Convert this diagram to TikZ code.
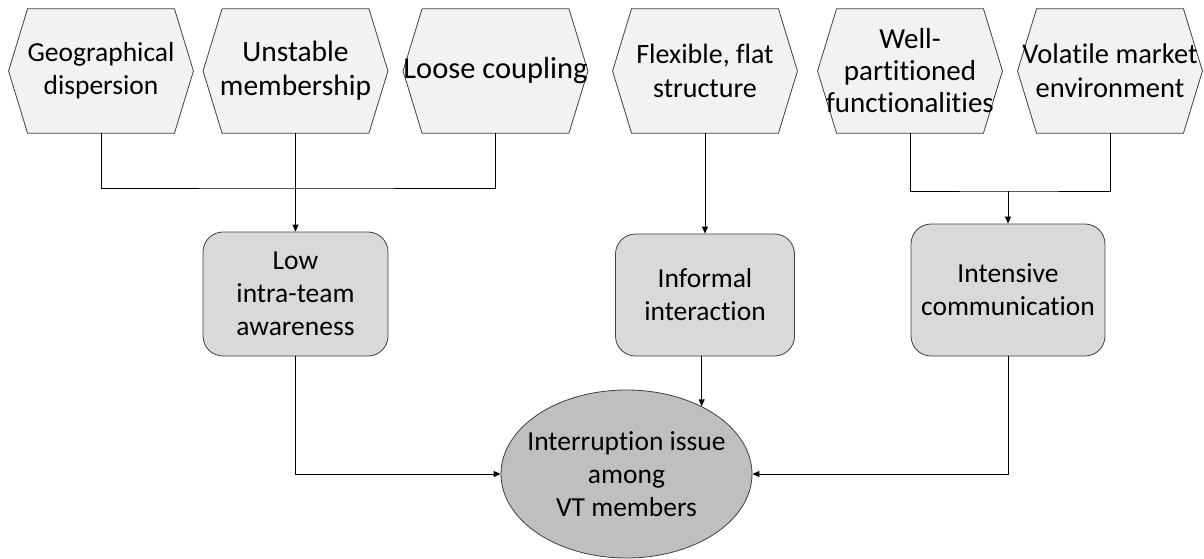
\documentclass[tikz,border=0pt]{standalone}
\usepackage{fontspec}
\setmainfont{Carlito}[Ligatures=NoCommon]
\usetikzlibrary{shapes.geometric,arrows.meta,backgrounds}
\definecolor{hexfill}{HTML}{F2F2F2}
\definecolor{boxfill}{HTML}{D9D9D9}
\definecolor{ellfill}{HTML}{BFBFBF}
\definecolor{edge}{HTML}{404040}
\begin{document}
\begin{tikzpicture}[x=1pt,y=-1pt,
  sized/.style 2 args={font=\fontsize{#1}{#2}\selectfont},
  txt/.style={sized={27.5}{33}, align=center, inner sep=0pt},
  hexbox/.style={txt, minimum width=184.5pt, minimum height=124pt},
  hexoutline/.style={draw=edge, fill=hexfill, line width=0.8pt, line join=miter},
  causebox/.style={txt, draw=edge, fill=boxfill, line width=0.8pt, rounded corners=20pt},
  issue/.style={ellipse, draw=edge, fill=ellfill, line width=0.8pt, inner sep=0pt,
                minimum width=251pt, minimum height=168pt},
  link/.style={draw=black, line width=0.9pt},
  arrowlink/.style={link, -{Triangle[length=7pt,width=6pt]}}]
\useasboundingbox (0,0) rectangle (1204,559);

% contributing factors (hexagons)
\node[hexbox]                       (h1) at (101,71)   {Geographical\\dispersion};
\node[hexbox, sized={29.5}{34}]     (h2) at (295.5,71) {Unstable\\membership};
\node[hexbox, sized={30.5}{36}]     (h3) at (495.5,71) {Loose coupling};
\node[hexbox, sized={28}{33.5}]     (h4) at (705,71)   {Flexible, flat\\structure};
\node[hexbox, sized={29}{32}]       (h5) at (910,71)   {Well-\\partitioned\\functionalities};
\node[hexbox, sized={28.5}{34}]     (h6) at (1110,71)  {Volatile market\\environment};

\begin{scope}[on background layer]
  \foreach \h in {h1,h2,h3,h4,h5,h6}
    \draw[hexoutline] ([xshift=19pt]\h.north west) -- ([xshift=-19pt]\h.north east)
      -- (\h.east) -- ([xshift=-19pt]\h.south east) -- ([xshift=19pt]\h.south west)
      -- (\h.west) -- cycle;
\end{scope}

% intermediate effects
\node[causebox, minimum width=185pt, minimum height=124pt] (b1) at (295.5,294) {Low\\intra-team\\awareness};
\node[causebox, minimum width=179pt, minimum height=122pt] (b2) at (705,295)   {Informal\\interaction};
\node[causebox, minimum width=194pt, minimum height=132pt] (b3) at (1008,290)  {Intensive\\communication};

% resulting issue
\node[issue] (e) at (626.5,474) {};
\node[txt] (etext) at (e.center) {Interruption issue\\among\\VT members};

% connectors
\coordinate (j1) at (295.5,188);
\coordinate (j2) at (1008,191);
\draw[link] (h1.south) |- (j1) -| (h3.south);
\draw[link] (h2.south) -- (j1);
\draw[arrowlink] (j1) -- (b1.north);

\draw[arrowlink] (h4.south) -- (b2.north);

\draw[link] (h5.south) |- (j2) -| (h6.south);
\draw[arrowlink] (j2) -- (b3.north);

\draw[arrowlink] (b1.south) |- (e.west);
\draw[arrowlink] (b3.south) |- (e.east);
\path (e.42) coordinate (etop);
\draw[arrowlink] (b2.south -| etop) -- (etop);
\end{tikzpicture}
\end{document}
